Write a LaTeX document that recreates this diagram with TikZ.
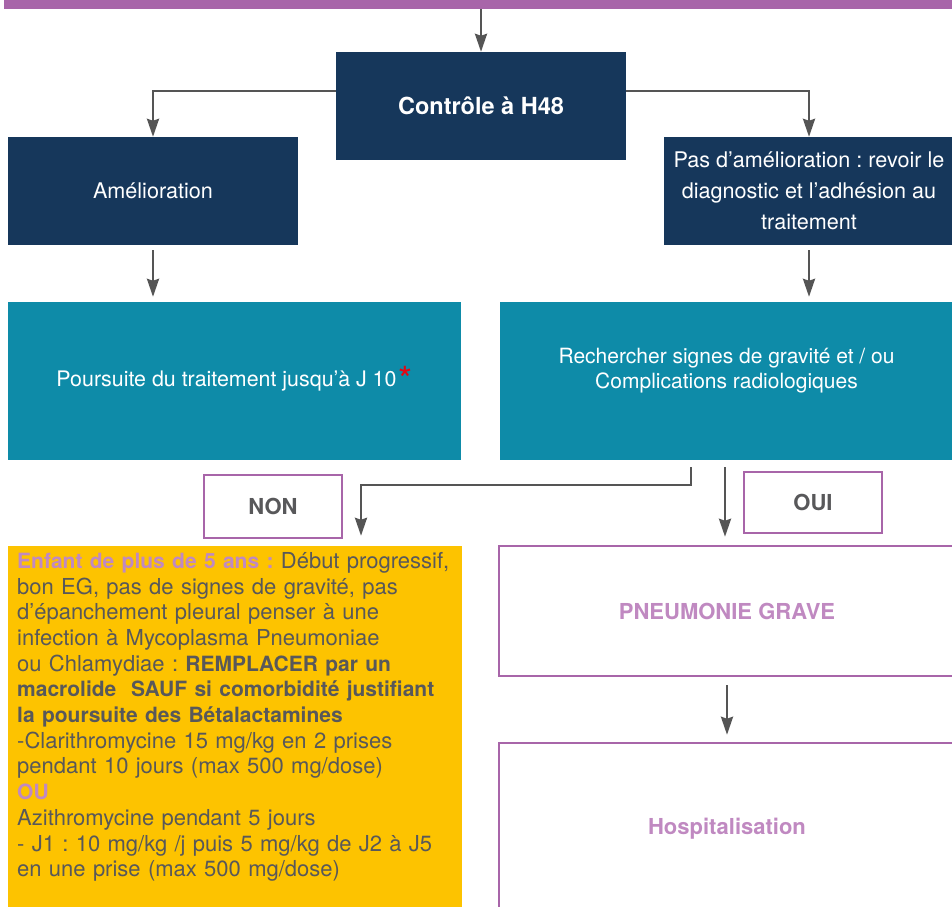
\documentclass[tikz,border=0pt]{standalone}
\usepackage{fontspec}
\setmainfont{TeX Gyre Heros}
\usetikzlibrary{arrows.meta}
\definecolor{navyblue}{HTML}{16375B}
\definecolor{seablue}{HTML}{0E8BA8}
\definecolor{gold}{HTML}{FDC300}
\definecolor{mauve}{HTML}{A865A9}
\definecolor{mauvetext}{HTML}{C089C1}
\definecolor{ink}{HTML}{58585A}
\definecolor{astred}{HTML}{E30613}
\definecolor{arrowgray}{HTML}{555555}
\frenchspacing

\begin{document}
\begin{tikzpicture}[x=1pt,y=-1pt,
  navybox/.style={fill=navyblue,text=white,minimum width=290pt,minimum height=108pt,inner sep=0pt,align=center,font=\fontsize{21.6}{31}\selectfont},
  tealbox/.style={fill=seablue,text=white,minimum width=453pt,minimum height=158pt,inner sep=0pt,align=center,font=\fontsize{21}{25}\selectfont},
  linebox/.style={draw=mauve,line width=2.5pt,fill=white,inner sep=0pt,font=\bfseries\fontsize{22}{26}\selectfont},
  arr/.style={draw=arrowgray,line width=2.6pt,-{Stealth[length=18pt,width=12pt,inset=2pt]}}]
\clip (0,0) rectangle (952,906);
\node[fill=mauve,minimum width=948pt,minimum height=14pt,inner sep=0pt] (bar) at (478,2) {};
\node[navybox,font=\bfseries\fontsize{23.5}{28}\selectfont] (ctrl) at (481,106) {Contrôle à H48};
\node[navybox] (amel) at (153,191) {Amélioration};
\node[navybox] (pasamel) at (809,191) {Pas d’amélioration : revoir le\\diagnostic et l’adhésion au\\traitement};
\node[tealbox,font=\fontsize{21.4}{25}\selectfont] (pours) at (234.5,381) {Poursuite du traitement jusqu’à J 10\smash{\kern2pt\textcolor{astred}{\raisebox{-6pt}{\fontsize{36}{36}\selectfont*}}}};
\node[tealbox,text depth=25pt] (rech) at (726.5,381) {Rechercher signes de gravité et / ou\\Complications radiologiques};
\node[linebox,minimum width=138pt,minimum height=63pt,text=ink] (non) at (273,506.5) {NON};
\node[linebox,minimum width=138pt,minimum height=61pt,text=ink] (oui) at (813,502.5) {OUI};
\node[fill=gold,minimum width=454pt,minimum height=362pt,inner sep=0pt] (yel) at (235,727) {};
\node[anchor=north west,text width=450pt,inner sep=0pt,align=left,text=ink,font=\fontsize{22}{25.7}\selectfont] (yeltext) at (17,552)
  {\textcolor{mauvetext}{\fontsize{21}{25.7}\selectfont\bfseries Enfant de plus de 5 ans :} Début progressif,\\
   bon EG, pas de signes de gravité, pas\\
   d’épanchement pleural penser à une\\
   infection à Mycoplasma Pneumoniae\\
   ou Chlamydiae : {\fontsize{21}{25.7}\selectfont\bfseries REMPLACER par un}\\
   {\fontsize{21}{25.7}\selectfont\bfseries macrolide\ \ SAUF si comorbidité justifiant}\\
   {\fontsize{21}{25.7}\selectfont\bfseries la poursuite des Bétalactamines}\\
   -Clarithromycine 15 mg/kg en 2 prises\\
   pendant 10 jours (max 500 mg/dose)\\
   \textcolor{mauvetext}{\fontsize{21}{25.7}\selectfont\bfseries OU}\\
   Azithromycine pendant 5 jours\\
   - J1 : 10 mg/kg /j puis 5 mg/kg de J2 à J5\\
   en une prise (max 500 mg/dose)};
\node[linebox,minimum width=456pt,minimum height=130pt,text=mauvetext] (grave) at (727,611) {PNEUMONIE GRAVE};
\node[linebox,minimum width=456pt,minimum height=172pt,text=mauvetext] (hosp) at (727,829) {Hospitalisation};
\coordinate (nonbend) at (691,485);
\coordinate (nonend) at (361,485);
\coordinate (ouiline) at (725,0);
\draw[arr] (bar.south -| ctrl.north) -- (ctrl.north);
\draw[arr] ([yshift=15pt]ctrl.west) -| (amel.north);
\draw[arr] ([yshift=15pt]ctrl.east) -| (pasamel.north);
\draw[arr,shorten <=5pt,shorten >=5pt] (amel.south) -- (pours.north -| amel.south);
\draw[arr,shorten <=5pt,shorten >=5pt] (pasamel.south) -- (rech.north -| pasamel.south);
\draw[arr,shorten <=7pt,shorten >=10pt] (rech.south -| nonbend) -- (nonbend) -- (nonend) -- (yel.north -| nonend);
\draw[arr,shorten <=7pt,shorten >=8pt] (rech.south -| ouiline) -- (grave.north -| ouiline);
\draw[arr,shorten <=8pt,shorten >=7pt] (grave.south) -- (hosp.north);
\end{tikzpicture}
\end{document}
